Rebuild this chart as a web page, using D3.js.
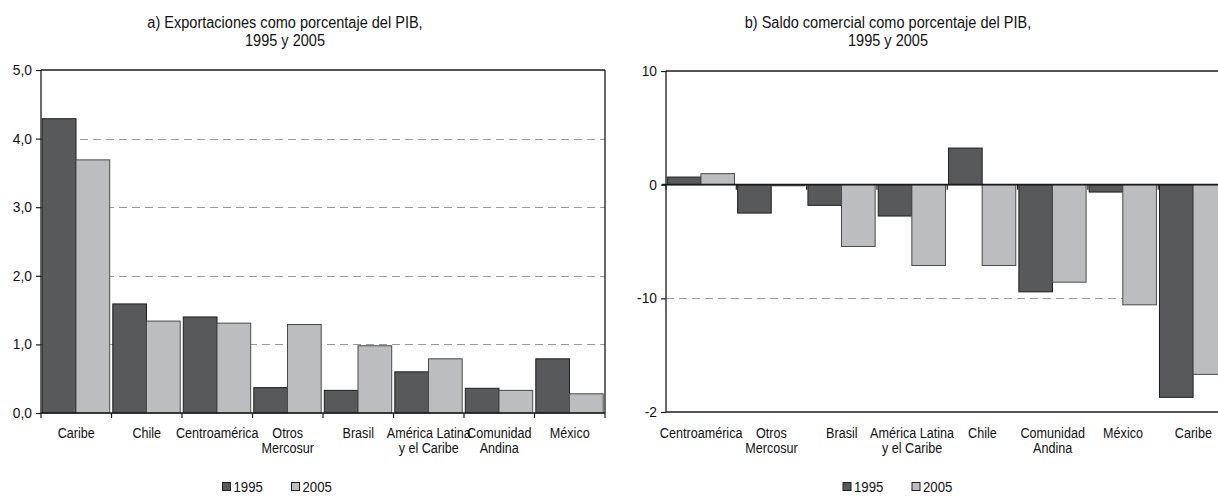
<!DOCTYPE html>
<html><head><meta charset="utf-8">
<script src="https://cdn.jsdelivr.net/npm/d3@7"></script>
<style>
body{margin:0;background:#fff;}
svg{display:block;}
text{font-family:"Liberation Sans",Arial,Helvetica,sans-serif;fill:#111;}
</style></head><body>
<svg id="c" width="1218" height="496"></svg>
<script>
// ---- data ----
const seriesNames = ["1995", "2005"];
const catsA = ["Caribe", "Chile", "Centroamérica", "Otros\nMercosur", "Brasil", "América Latina\ny el Caribe", "Comunidad\nAndina", "México"];
const a1995 = [4.29, 1.59, 1.40, 0.37, 0.33, 0.60, 0.36, 0.79];
const a2005 = [3.69, 1.34, 1.31, 1.29, 0.98, 0.79, 0.33, 0.28];
const ticksA = [0, 1, 2, 3, 4, 5];
const tickLabelsA = ["0,0", "1,0", "2,0", "3,0", "4,0", "5,0"];

const catsB = ["Centroamérica", "Otros\nMercosur", "Brasil", "América Latina\ny el Caribe", "Chile", "Comunidad\nAndina", "México", "Caribe"];
const b1995 = [0.67, -2.5, -1.82, -2.76, 3.22, -9.43, -0.65, -18.71];
const b2005 = [0.97, -0.1, -5.44, -7.11, -7.11, -8.58, -10.57, -16.69];
const ticksB = [10, 0, -10, -20];
const tickLabelsB = ["10", "0", "-10", "-2"];

const titleA = ["a) Exportaciones como porcentaje del PIB,", "1995 y 2005"];
const titleB = ["b) Saldo comercial como porcentaje del PIB,", "1995 y 2005"];

const colors = {"1995": "#58595b", "2005": "#bcbdc0"};

const svg = d3.select("#c");

// condensed text helper
function ctext(parent, x, y, str, size, sx, anchor) {
  return parent.append("text")
    .attr("transform", `translate(${x},${y}) scale(${sx},1)`)
    .attr("text-anchor", anchor || "start")
    .style("font-size", size + "px")
    .text(str);
}

function drawPanel(cfg) {
  const g = svg.append("g");
  const x = d3.scaleBand().domain(cfg.cats).range([cfg.x0, cfg.x1]).padding(0);
  const y = d3.scaleLinear().domain(cfg.domain).range([cfg.yBot, cfg.yTop]);
  const bw = x.bandwidth();
  const xs = d3.scaleBand().domain(seriesNames).range([1.3, bw - 1.8]).padding(0);

  // title
  cfg.title.forEach((line, i) => ctext(g, cfg.titleX, 28 + i * 18, line, 17.3, 0.84, "middle"));

  // grid lines
  g.selectAll(".grid").data(cfg.grid).enter().append("line")
    .attr("x1", cfg.x0).attr("x2", cfg.x1)
    .attr("y1", d => Math.round(y(d)) + 0.5).attr("y2", d => Math.round(y(d)) + 0.5)
    .attr("stroke", "#9a9a9a").attr("stroke-width", 1.2).attr("stroke-dasharray", "8,5");

  // bars
  const data = [];
  cfg.cats.forEach((c, i) => {
    seriesNames.forEach((s, j) => data.push({cat: c, s: s, v: cfg.values[j][i]}));
  });
  g.selectAll(".bar").data(data).enter().append("rect")
    .attr("x", d => x(d.cat) + xs(d.s))
    .attr("width", xs.bandwidth())
    .attr("y", d => y(Math.max(0, d.v)))
    .attr("height", d => Math.max(0.8, Math.abs(y(d.v) - y(0))))
    .attr("fill", d => colors[d.s])
    .attr("stroke", d => d.s === "1995" ? "#1e1e1e" : "#4a4a4a")
    .attr("stroke-width", 1);

  // frame
  const frame = g.append("g").attr("stroke", "#1a1a1a").attr("stroke-width", 1.3).attr("fill", "none");
  frame.append("line").attr("x1", cfg.x0).attr("x2", cfg.x0).attr("y1", cfg.yTop).attr("y2", cfg.yBot);
  frame.append("line").attr("x1", cfg.x0).attr("x2", cfg.x1).attr("y1", cfg.yTop).attr("y2", cfg.yTop);
  frame.append("line").attr("x1", cfg.x0).attr("x2", cfg.x1).attr("y1", cfg.yBot).attr("y2", cfg.yBot);
  if (cfg.rightBorder) frame.append("line").attr("x1", cfg.x1).attr("x2", cfg.x1).attr("y1", cfg.yTop).attr("y2", cfg.yBot);
  if (cfg.zeroLine) frame.append("line").attr("x1", cfg.x0 - 4).attr("x2", cfg.x1).attr("y1", y(0)).attr("y2", y(0)).attr("stroke-width", 1.6);

  // y axis (ticks via d3 axis, labels condensed)
  const yAxis = d3.axisLeft(y).tickValues(cfg.ticks).tickSize(5).tickFormat("");
  const ya = g.append("g").attr("transform", `translate(${cfg.x0},0)`).call(yAxis);
  ya.select(".domain").remove();
  ya.selectAll(".tick line").attr("stroke", "#1a1a1a").attr("stroke-width", 1.2);
  cfg.ticks.forEach((t, i) => ctext(g, cfg.x0 - 9, y(t) + 5, cfg.tickLabels[i], 15, 0.92, "end"));

  // category ticks
  const bounds = cfg.cats.map(c => x(c)).concat([cfg.x1]);
  const tickY = cfg.zeroLine ? y(0) : cfg.yBot;
  g.selectAll(".ctick").data(bounds).enter().append("line")
    .attr("x1", d => d).attr("x2", d => d)
    .attr("y1", tickY).attr("y2", tickY + 5)
    .attr("stroke", "#1a1a1a").attr("stroke-width", 1.2);

  // category labels
  cfg.cats.forEach(c => {
    c.split("\n").forEach((l, i) => ctext(g, x(c) + bw / 2, 438 + i * 15, l, 15, 0.84, "middle"));
  });

  // legend
  seriesNames.forEach((s, i) => {
    const lx = cfg.legendX + i * 69;
    g.append("rect").attr("x", lx).attr("y", 482.5).attr("width", 8).attr("height", 8)
      .attr("fill", colors[s]).attr("stroke", "#1e1e1e").attr("stroke-width", 1);
    ctext(g, lx + 11, 492, s, 15, 0.88, "start");
  });
}

drawPanel({
  cats: catsA, values: [a1995, a2005], domain: [0, 5],
  x0: 41, x1: 605, yTop: 70, yBot: 413,
  ticks: ticksA, tickLabels: tickLabelsA, grid: [1, 2, 3, 4],
  title: titleA, titleX: 285, rightBorder: true, zeroLine: false, legendX: 222.5
});
drawPanel({
  cats: catsB, values: [b1995, b2005], domain: [-20, 10],
  x0: 666, x1: 1228.5, yTop: 71, yBot: 412,
  ticks: ticksB, tickLabels: tickLabelsB, grid: [-10],
  title: titleB, titleX: 888, rightBorder: false, zeroLine: true, legendX: 843
});
</script>
</body></html>
